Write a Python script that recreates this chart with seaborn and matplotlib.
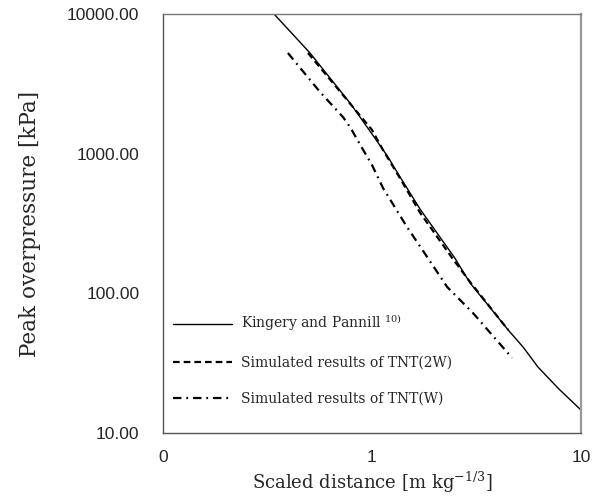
import matplotlib
matplotlib.use("Agg")
import matplotlib.pyplot as plt
import seaborn as sns
import pandas as pd

# Kingery and Pannill reference curve
kp_x = [0.340, 0.505, 0.785, 1.0, 1.193, 1.317, 1.70, 2.49, 2.94, 3.6, 4.48, 5.3, 6.22, 7.8, 10.0]
kp_y = [10000, 5260, 2307, 1384, 947, 739, 400, 179, 119, 82, 54.7, 41, 29.7, 20.8, 14.6]

# Simulated results of TNT(2W)
w2_x = [0.494, 0.802, 1.0, 1.129, 1.36, 1.70, 2.42, 2.94, 4.48]
w2_y = [5260, 2200, 1480, 1062, 670, 377, 179, 121, 54.7]

# Simulated results of TNT(W)
w1_x = [0.396, 0.564, 0.726, 0.785, 0.896, 1.0, 1.129, 1.47, 1.85, 2.29, 3.04, 4.68]
w1_y = [5260, 2765, 1832, 1553, 1099, 830, 568, 299, 179, 111, 72.4, 34.5]

labels = ["Kingery and Pannill $^{10)}$",
          "Simulated results of TNT(2W)",
          "Simulated results of TNT(W)"]

x_ticks = [0.1, 1, 10]
x_ticklabels = ["0", "1", "10"]
y_ticks = [10, 100, 1000, 10000]
y_ticklabels = ["10.00", "100.00", "1000.00", "10000.00"]

sns.set_style("white")
plt.rcParams["font.family"] = ["DejaVu Serif"]
plt.rcParams["mathtext.fontset"] = "dejavuserif"

fig = plt.figure(figsize=(5.92, 4.99), dpi=100)
ax = fig.add_axes([0.2753, 0.1323, 0.7061, 0.8396])

df_kp = pd.DataFrame({"x": kp_x, "y": kp_y})
df_w2 = pd.DataFrame({"x": w2_x, "y": w2_y})
df_w1 = pd.DataFrame({"x": w1_x, "y": w1_y})

sns.lineplot(data=df_kp, x="x", y="y", ax=ax, color="black", lw=1.0,
             label=labels[0], sort=False)
sns.lineplot(data=df_w2, x="x", y="y", ax=ax, color="black", lw=1.6,
             label=labels[1], sort=False)
sns.lineplot(data=df_w1, x="x", y="y", ax=ax, color="black", lw=1.6,
             label=labels[2], sort=False)
lines = ax.get_lines()
lines[1].set_dashes([3.0, 1.8])
lines[2].set_dashes([3.8, 2.2, 0.8, 2.2])

ax.set_xscale("log")
ax.set_yscale("log")
ax.set_xlim(0.1, 10)
ax.set_ylim(10, 10000)
ax.set_xticks(x_ticks)
ax.set_xticklabels(x_ticklabels)
ax.set_yticks(y_ticks)
ax.set_yticklabels(y_ticklabels)
ax.minorticks_off()
ax.tick_params(direction="in", length=5, width=0.8, color="#555555",
               labelsize=12.5)
ax.tick_params(axis="y", pad=17)
ax.tick_params(axis="x", pad=12)
for t in ax.get_xticklabels() + ax.get_yticklabels():
    t.set_fontfamily("Liberation Sans")

ax.set_xlabel("Scaled distance [m kg$^{-1/3}$]", fontsize=13, labelpad=4)
ax.set_ylabel("Peak overpressure [kPa]", fontsize=15.5, labelpad=19)

for side in ["left", "bottom"]:
    ax.spines[side].set_color("#555555")
    ax.spines[side].set_linewidth(1.0)
ax.spines["top"].set_color("#777777")
ax.spines["top"].set_linewidth(1.0)
ax.spines["right"].set_color("#999999")
ax.spines["right"].set_linewidth(1.6)

leg = ax.legend(loc="lower left", bbox_to_anchor=(-0.005, 0.035), frameon=False,
                fontsize=10, handlelength=4.2, labelspacing=1.6,
                handletextpad=0.7)

fig.savefig("out.png", dpi=100)
